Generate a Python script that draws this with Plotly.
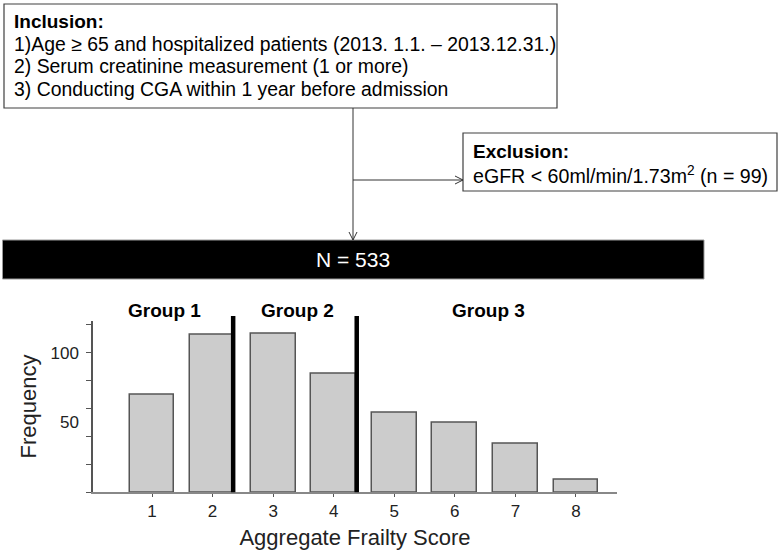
import plotly.graph_objects as go

# ---------------- data ----------------
scores = [1, 2, 3, 4, 5, 6, 7, 8]
frequency = [70, 113, 114, 85, 57, 50, 35, 9]
y_label_vals = [50, 100]
y_label_text = ["50", "100"]
y_minor_ticks = [0, 20, 40, 60, 80, 100, 120]
group_names = ["Group 1", "Group 2", "Group 3"]
group_boundaries = [2.34, 4.38]

inclusion_title = "Inclusion:"
inclusion_items = [
    "1)Age ≥ 65 and hospitalized patients (2013. 1.1. – 2013.12.31.)",
    "2) Serum creatinine measurement (1 or more)",
    "3) Conducting CGA within 1 year before admission",
]
exclusion_title = "Exclusion:"
exclusion_text = "eGFR < 60ml/min/1.73m<sup>2</sup> (n = 99)"
total_text = "N = 533"

W, H = 784, 550
FONT = "Arial, 'Liberation Sans', sans-serif"


def px(x):
    return x / W


def py(y):
    return 1 - y / H


fig = go.Figure()
fig.add_trace(go.Bar(
    x=scores, y=frequency, width=0.74,
    marker=dict(color="#cccccc", line=dict(color="#555555", width=1.5)),
    showlegend=False, hoverinfo="x+y",
))

shapes = []
line_col = "#333333"
# inclusion box
shapes.append(dict(type="rect", xref="paper", yref="paper",
                   x0=px(4), x1=px(557), y0=py(4), y1=py(108),
                   line=dict(color="#404040", width=1.2), fillcolor="white", layer="below"))
# exclusion box
shapes.append(dict(type="rect", xref="paper", yref="paper",
                   x0=px(463), x1=px(777), y0=py(133), y1=py(191),
                   line=dict(color="#404040", width=1.2), fillcolor="white", layer="below"))
# N bar
shapes.append(dict(type="rect", xref="paper", yref="paper",
                   x0=px(2.5), x1=px(704), y0=py(240), y1=py(279),
                   line=dict(color="#999999", width=1), fillcolor="black"))
# vertical connector
shapes.append(dict(type="line", xref="paper", yref="paper",
                   x0=px(353), x1=px(353), y0=py(108), y1=py(240),
                   line=dict(color=line_col, width=1)))
# arrowhead down
shapes.append(dict(type="path", xref="paper", yref="paper",
                   path=f"M {px(349)},{py(232)} L {px(353)},{py(240)} L {px(357)},{py(232)}",
                   line=dict(color=line_col, width=1)))
# horizontal connector
shapes.append(dict(type="line", xref="paper", yref="paper",
                   x0=px(353), x1=px(463), y0=py(180), y1=py(180),
                   line=dict(color=line_col, width=1)))
shapes.append(dict(type="path", xref="paper", yref="paper",
                   path=f"M {px(455)},{py(176)} L {px(463)},{py(180)} L {px(455)},{py(184)}",
                   line=dict(color=line_col, width=1)))
# group boundaries
for b in group_boundaries:
    shapes.append(dict(type="line", xref="x", yref="paper",
                       x0=b, x1=b, y0=py(492.3), y1=py(316),
                       line=dict(color="black", width=4.5)))

annotations = []
annotations.append(dict(xref="paper", yref="paper", x=px(12), y=py(21.5),
                        text="<b>" + inclusion_title + "</b>", showarrow=False,
                        xanchor="left", yanchor="middle",
                        font=dict(family=FONT, size=19, color="black")))
for i, t in enumerate(inclusion_items):
    annotations.append(dict(xref="paper", yref="paper", x=px(12), y=py(43.5 + 22.8 * i),
                            text=t, showarrow=False, xanchor="left", yanchor="middle",
                            font=dict(family=FONT, size=19.4, color="black")))
annotations.append(dict(xref="paper", yref="paper", x=px(471), y=py(151.5),
                        text="<b>" + exclusion_title + "</b>", showarrow=False,
                        xanchor="left", yanchor="middle",
                        font=dict(family=FONT, size=19, color="black")))
annotations.append(dict(xref="paper", yref="paper", x=px(471), y=py(175),
                        text=exclusion_text, showarrow=False,
                        xanchor="left", yanchor="middle",
                        font=dict(family=FONT, size=19.6, color="black")))
annotations.append(dict(xref="paper", yref="paper", x=px(353), y=py(260),
                        text=total_text, showarrow=False,
                        xanchor="center", yanchor="middle",
                        font=dict(family=FONT, size=21, color="white")))
for name, gx in zip(group_names, [1.2, 3.4, 6.56]):
    annotations.append(dict(xref="x", yref="paper", x=gx, y=py(310),
                            text="<b>" + name + "</b>", showarrow=False,
                            xanchor="center", yanchor="middle",
                            font=dict(family=FONT, size=19, color="black")))

fig.update_layout(
    width=W, height=H, autosize=False,
    margin=dict(l=0, r=0, t=0, b=0),
    paper_bgcolor="white", plot_bgcolor="white",
    showlegend=False,
    shapes=shapes, annotations=annotations,
    font=dict(family=FONT, color="#222222"),
    bargap=0,
    xaxis=dict(
        domain=[px(93), px(617)], range=[0.026, 8.677],
        tickvals=scores, ticktext=[str(s) for s in scores],
        ticks="outside", ticklen=3, tickcolor="#555555",
        showline=True, linecolor="#888888", linewidth=1.5,
        showgrid=False, zeroline=False,
        tickfont=dict(family=FONT, size=17, color="#222222"),
        title=dict(text="Aggregate Frailty Score", standoff=12,
                   font=dict(family=FONT, size=22, color="#222222")),
    ),
    yaxis=dict(
        domain=[py(492.3), py(320.7)], range=[0, 123],
        tickvals=y_label_vals, ticktext=y_label_text, ticks="",
        ticklabelstandoff=9,
        minor=dict(tickmode="array", tickvals=y_minor_ticks, ticks="outside",
                   ticklen=5, tickcolor="#555555", tickwidth=1.2, showgrid=False),
        showline=True, linecolor="#555555", linewidth=1.5,
        showgrid=False, zeroline=False,
        tickfont=dict(family=FONT, size=17, color="#222222"),
        title=dict(text="Frequency", standoff=8,
                   font=dict(family=FONT, size=22, color="#222222")),
    ),
)

fig.write_html("out.html", config={"displayModeBar": False},
               post_script="document.body.style.margin='0';document.body.style.padding='0';")
